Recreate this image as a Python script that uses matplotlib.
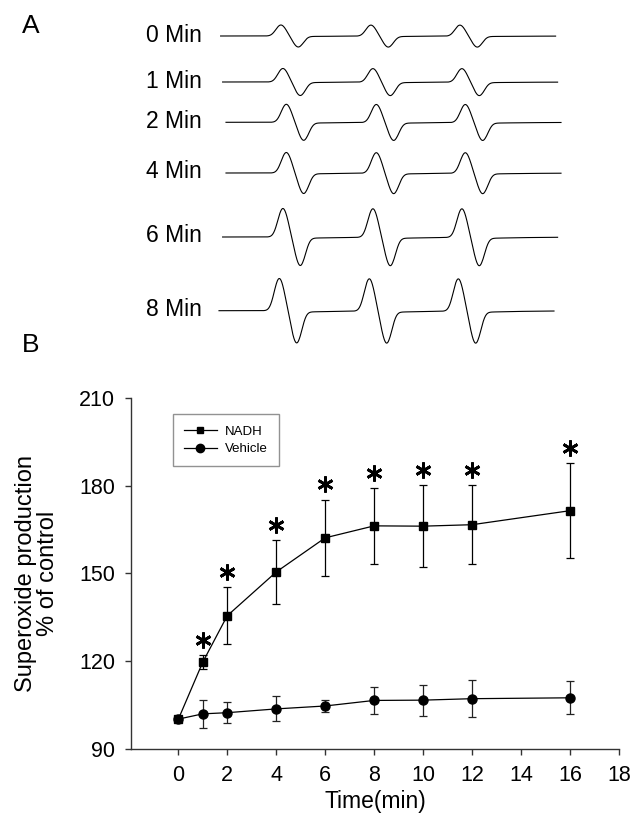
import numpy as np
import matplotlib
matplotlib.use("Agg")
import matplotlib.pyplot as plt
import matplotlib.transforms as mtransforms
from matplotlib.lines import Line2D

plt.rcParams['font.family'] = ['Liberation Sans', 'DejaVu Sans']

# ---------------- data ----------------
# Panel A: EPR spectra, amplitude of each trace (a.u.)
trace_labels = ["0 Min", "1 Min", "2 Min", "4 Min", "6 Min", "8 Min"]
trace_amplitudes = [11.0, 13.5, 18.0, 20.5, 28.5, 32.2]

# Panel B: superoxide production (% of control)
time_min = [0, 1, 2, 4, 6, 8, 10, 12, 16]
nadh_mean = [100, 119.6, 135.5, 150.5, 162.2, 166.3, 166.2, 166.7, 171.5]
nadh_err = [0, 2.5, 9.8, 10.8, 13.1, 12.9, 14.0, 13.5, 16.3]
vehicle_mean = [100.1, 101.9, 102.3, 103.6, 104.6, 106.5, 106.6, 107.1, 107.4]
vehicle_err = [0, 4.9, 3.6, 4.3, 2.0, 4.6, 5.3, 6.3, 5.7]
significant = [False, True, True, True, True, True, True, True, True]

x_ticks = [0, 2, 4, 6, 8, 10, 12, 14, 16, 18]
y_ticks = [90, 120, 150, 180, 210]

# ---------------- figure ----------------
W, H = 637, 825
fig = plt.figure(figsize=(W / 100, H / 100), dpi=100)

# ---- Panel A (pixel-like coordinate frame) ----
axA = fig.add_axes([0, 0, 1, 1])
axA.set_xlim(0, W)
axA.set_ylim(H, 0)
axA.axis("off")

trace_baselines = [36, 82, 122.3, 173, 237, 310.7]
trace_starts = [220.6, 222.6, 226, 226, 222.6, 219]
trace_len = 335
line_offsets = [69, 159, 248]
line_width = 8.7

for lab, amp, yb, xs in zip(trace_labels, trace_amplitudes, trace_baselines, trace_starts):
    xx = np.linspace(xs, xs + trace_len, 2000)
    sig = np.zeros_like(xx)
    for off in line_offsets:
        u = (xx - (xs + off)) / line_width
        sig += -u * np.exp((1 - np.abs(u) ** 3) / 3)
        # slight slow recovery after the trough
        v = np.clip(u - 1.3, 0, None)
        sig += -0.05 * np.where(u > 1.3, np.exp(-v / 5.0) * (1 - np.exp(-v * 2)), 0.0)
    axA.plot(xx, yb - amp * sig, color="black", lw=0.8)
    axA.text(202, yb - 1, lab, ha="right", va="center", fontsize=16.5)

axA.text(31, 26, "A", ha="center", va="center", fontsize=19)
axA.text(31, 345, "B", ha="center", va="center", fontsize=19)

# ---- Panel B ----
ax = fig.add_axes([131 / W, 1 - 748.6 / H, (619 - 131) / W, (748.6 - 398.3) / H])
ax.set_xlim(-1.93, 18)
ax.set_ylim(90, 210)

ax.errorbar(time_min, vehicle_mean, yerr=vehicle_err, color="black",
            marker="o", markersize=6.5, lw=0.9, elinewidth=0.9, capsize=3.2,
            capthick=0.9, ecolor="#222222", label="Vehicle", zorder=3)
ax.errorbar(time_min, nadh_mean, yerr=nadh_err, color="black",
            marker="s", markersize=6, lw=0.9, elinewidth=0.9, capsize=3.2,
            capthick=0.9, label="NADH", zorder=4)

star_shift = ax.transData + mtransforms.ScaledTranslation(0, 11 / 72, fig.dpi_scale_trans)
for t, m, e, s in zip(time_min, nadh_mean, nadh_err, significant):
    if s:
        ax.plot([t], [m + e], linestyle="none", marker=(6, 2, 0), markersize=11.5,
                markeredgewidth=2.0, color="black", transform=star_shift, clip_on=False)

for side in ["top", "right"]:
    ax.spines[side].set_visible(False)
for side in ["left", "bottom"]:
    ax.spines[side].set_color("#333333")
    ax.spines[side].set_linewidth(1.0)

ax.set_xticks(x_ticks)
ax.set_yticks(y_ticks)
ax.tick_params(direction="out", length=4.5, width=1.0, color="#333333", labelsize=15.5, pad=7)

ax.set_xlabel("Time(min)", fontsize=16.5, labelpad=3)
fig.text(37 / W, 1 - 573 / H, "Superoxide production\n% of control", rotation=90,
         ha="center", va="center", fontsize=17, multialignment="center", linespacing=1.0)

handles = [Line2D([], [], color="black", marker="s", markersize=5, lw=0.9),
           Line2D([], [], color="black", marker="o", markersize=6, lw=0.9)]
leg = ax.legend(handles, ["NADH", "Vehicle"], loc="upper left",
                bbox_to_anchor=(172.7 / W, 1 - 414.3 / H), bbox_transform=fig.transFigure,
                borderaxespad=0, fancybox=False, fontsize=9.5, handlelength=2.5,
                borderpad=0.85, labelspacing=0.4, handletextpad=0.6, frameon=True)
leg.get_frame().set_edgecolor("#777777")
leg.get_frame().set_linewidth(1.0)

fig.savefig("out.png", dpi=100)
